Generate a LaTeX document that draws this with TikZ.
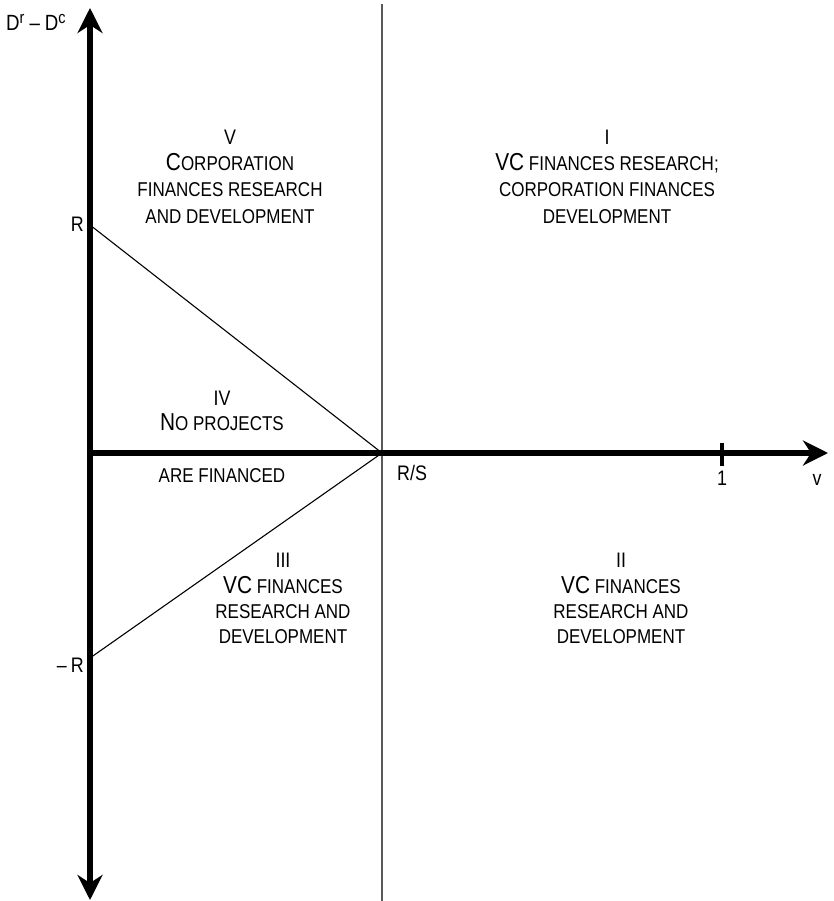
\documentclass[tikz,border=0pt]{standalone}
\usepackage{fontspec}
\setmainfont{Liberation Sans}[FakeStretch=0.85]
\usetikzlibrary{arrows.meta}
\newcommand\capL[1]{{\fontsize{24.5}{26}\selectfont #1}}
\newcommand\supL[1]{\raisebox{7pt}{\fontsize{17}{18}\selectfont #1}}
\tikzset{
  axisline/.style={line width=5.5pt, draw=black},
  bigtip/.tip={Stealth[length=25pt,width=25pt,inset=8pt]},
  numtxt/.style={font=\fontsize{21}{22}\selectfont, anchor=base, inner sep=0pt},
  regtxt/.style={font=\fontsize{20}{22}\selectfont, anchor=base, inner sep=0pt},
  lbl/.style={font=\fontsize{21}{22}\selectfont, inner sep=0pt},
  diag/.style={line width=1.1pt, draw=black},
  divider/.style={line width=1.3pt, draw=black!65}
}
\begin{document}
\begin{tikzpicture}[x=1pt,y=-1pt]
\useasboundingbox (0,0) rectangle (834,901);
% coordinates
\coordinate (O) at (90,453);
\coordinate (vtop) at (90,8);
\coordinate (vbot) at (90,900);
\coordinate (hend) at (828,453);
\coordinate (RS) at (382,453);
\coordinate (Rp) at (90,225);
\coordinate (Rm) at (90,658);
\coordinate (sTop) at (382,4);
\coordinate (sBot) at (382,901);
\coordinate (tickT) at (722,443);
\coordinate (tickB) at (722,466);
% lines
\draw[divider] (sTop) -- (sBot);
\draw[diag] (Rp) -- (RS);
\draw[diag] (Rm) -- (RS);
\draw[axisline, bigtip-bigtip] (vbot) -- (vtop);
\draw[axisline, -bigtip] (O) -- (hend);
\draw[line width=4pt] (tickT) -- (tickB);
% axis labels
\node[lbl, anchor=base west, font=\fontsize{22}{24}\selectfont] (ylab) at (6,31) {D\supL{r}\hspace{5pt}–\hspace{5pt}D\supL{c}};
\node[lbl, anchor=base east] (lRp) at (84,232) {R};
\node[lbl, anchor=base east] (lRm) at (84,672) {–\hspace{4pt}R};
\node[lbl, anchor=base west] (lRS) at (397,480) {R/S};
\node[lbl, anchor=base] (lone) at (722,485) {1};
\node[lbl, anchor=base] (lv) at (817,485) {v};
% region V
\node[numtxt] (v0) at (230,145) {V};
\node[regtxt] (v1) at (230,171) {\capL{C}ORPORATION};
\node[regtxt] (v2) at (230,197) {FINANCES RESEARCH};
\node[regtxt] (v3) at (230,223) {AND DEVELOPMENT};
% region I
\node[numtxt] (i0) at (607,145) {I};
\node[regtxt] (i1) at (607,171) {\capL{VC} FINANCES RESEARCH;};
\node[regtxt] (i2) at (607,197) {CORPORATION FINANCES};
\node[regtxt] (i3) at (607,223) {DEVELOPMENT};
% region IV
\node[numtxt] (iv0) at (222,405) {IV};
\node[regtxt] (iv1) at (222,430) {\capL{N}O PROJECTS};
\node[regtxt] (iv2) at (222,482) {ARE FINANCED};
% region III
\node[numtxt] (iii0) at (283,567) {III};
\node[regtxt] (iii1) at (283,593) {\capL{VC} FINANCES};
\node[regtxt] (iii2) at (283,618) {RESEARCH AND};
\node[regtxt] (iii3) at (283,643) {DEVELOPMENT};
% region II
\node[numtxt] (ii0) at (621,567) {II};
\node[regtxt] (ii1) at (621,593) {\capL{VC} FINANCES};
\node[regtxt] (ii2) at (621,618) {RESEARCH AND};
\node[regtxt] (ii3) at (621,643) {DEVELOPMENT};
\end{tikzpicture}
\end{document}
